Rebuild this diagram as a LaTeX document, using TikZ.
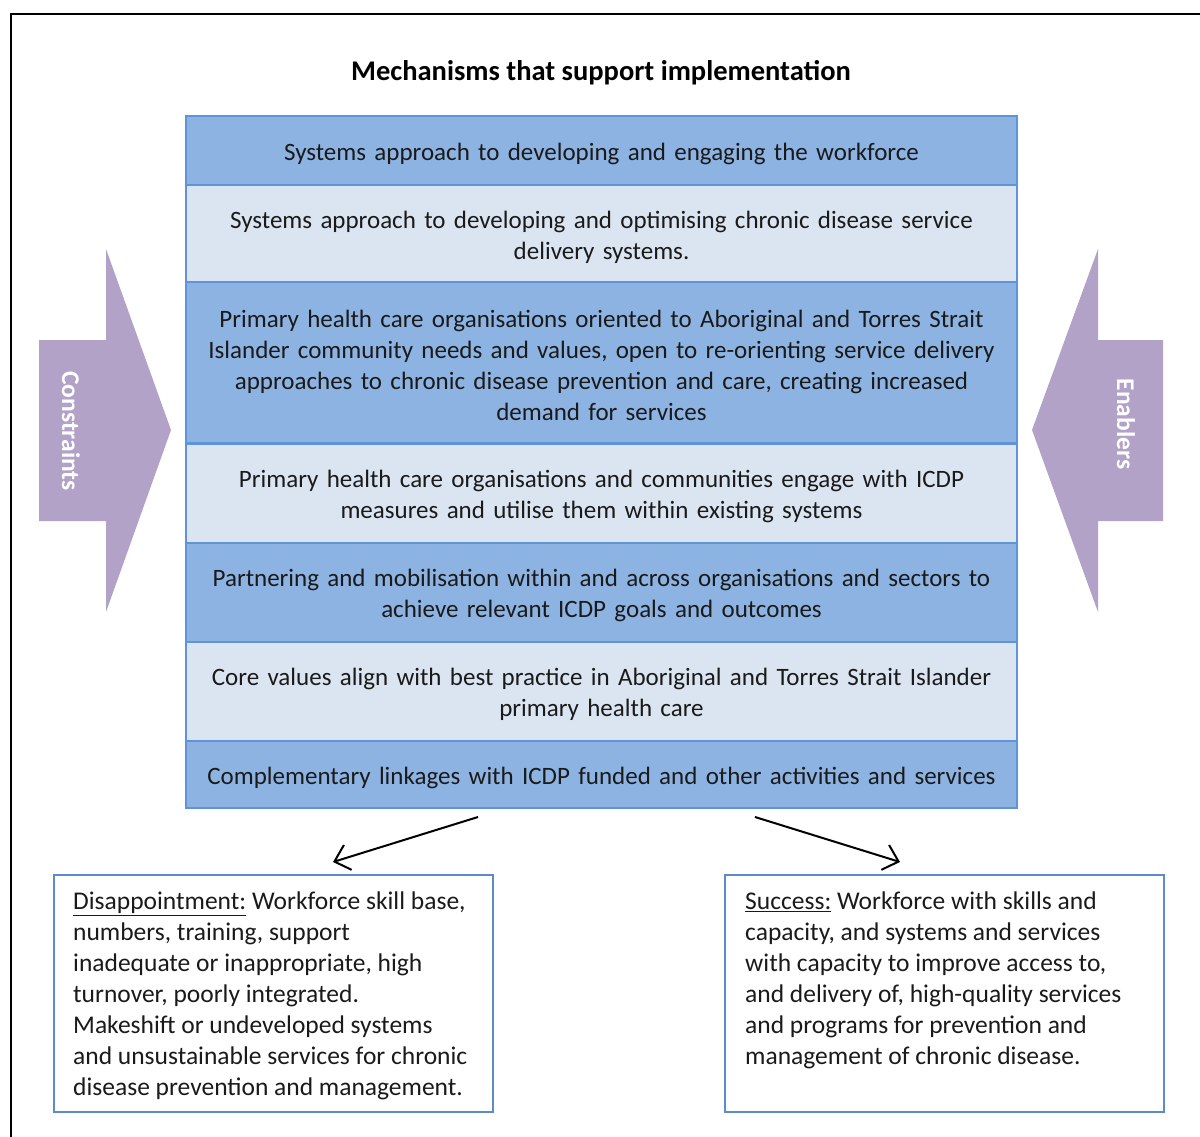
\documentclass[tikz,border=0pt]{standalone}
\usepackage{fontspec}
\setmainfont{Carlito}
\usetikzlibrary{arrows.meta}
\definecolor{rowdark}{HTML}{8DB3E2}
\definecolor{rowlight}{HTML}{DBE5F1}
\definecolor{rowline}{HTML}{5F94D8}
\definecolor{boxline}{HTML}{5B8BCB}
\definecolor{purp}{HTML}{B2A2C7}
\definecolor{txt}{HTML}{1A1A1A}
\newcommand{\rowtxt}[1]{\raisebox{-3pt}[\height][\depth]{\parbox{820pt}{\centering\spaceskip=.3333em\xspaceskip=.5em #1}}}
\tikzset{
  row/.style={draw=rowline, line width=2pt, minimum width=831pt, inner sep=0pt, text=txt, font=\fontsize{25}{31}\selectfont},
  darkrow/.style={row, fill=rowdark},
  lightrow/.style={row, fill=rowlight},
  outbox/.style={draw=boxline, line width=2pt, minimum width=439pt, minimum height=237pt, inner sep=0pt},
  outtext/.style={anchor=north west, align=left, inner sep=0pt, text=txt, font=\fontsize{25.5}{31}\selectfont},
  sidelabel/.style={text=white, font=\bfseries\fontsize{25.5}{28}\selectfont, rotate=-90},
  conn/.style={line width=2pt, -{Straight Barb[length=14pt,width=26pt,line width=2pt]}}
}
\begin{document}
\begin{tikzpicture}[x=1pt,y=-1pt]
\useasboundingbox (0,0) rectangle (1200,1137);
\draw[line width=2.5pt] (11,1140) -- (11,14) -- (1203,14);
\node[font=\bfseries\fontsize{28.5}{32}\selectfont, text=black] (title) at (601,73) {Mechanisms that support implementation};
% side arrows
\fill[purp] (39,340) -- (106,340) -- (106,249) -- (171,430) -- (106,612) -- (106,521) -- (39,521) -- cycle;
\node[sidelabel] (constraints) at (71,431) {Constraints};
\fill[purp] (1163,340) -- (1098,340) -- (1098,249) -- (1032,430) -- (1098,612) -- (1098,521) -- (1163,521) -- cycle;
\node[sidelabel] (enablers) at (1126,424) {Enablers};
% rows
\node[darkrow, minimum height=69pt] (r1) at (601.5,150.5) {\rowtxt{Systems approach to developing and engaging the workforce}};
\node[lightrow, minimum height=98pt] (r2) at (601.5,234) {\rowtxt{Systems approach to developing and optimising chronic disease service\\delivery systems.}};
\node[darkrow, minimum height=161pt] (r3) at (601.5,362.5) {\rowtxt{Primary health care organisations oriented to Aboriginal and Torres Strait\\Islander community needs and values, open to re-orienting service delivery\\approaches to chronic disease prevention and care, creating increased\\demand for services}};
\node[lightrow, minimum height=99pt] (r4) at (601.5,493.5) {\rowtxt{Primary health care organisations and communities engage with ICDP\\measures and utilise them within existing systems}};
\node[darkrow, minimum height=99pt] (r5) at (601.5,592.5) {\rowtxt{Partnering and mobilisation within and across organisations and sectors to\\achieve relevant ICDP goals and outcomes}};
\node[lightrow, minimum height=99pt] (r6) at (601.5,691.5) {\rowtxt{Core values align with best practice in Aboriginal and Torres Strait Islander\\primary health care}};
\node[darkrow, minimum height=67pt] (r7) at (601.5,774.5) {\rowtxt{Complementary linkages with ICDP funded and other activities and services}};
% outcome boxes
\node[outbox] (dis) at (273.5,993.5) {};
\node[outtext] (distext) at (73,892) {\underline{Disappointment:} Workforce skill base,\\numbers, training, support\\inadequate or inappropriate, high\\turnover, poorly integrated.\\Makeshift or undeveloped systems\\and unsustainable services for chronic\\disease prevention and management.};
\node[outbox] (suc) at (944.5,993.5) {};
\node[outtext] (suctext) at (745,892) {\underline{Success:} Workforce with skills and\\capacity, and systems and services\\with capacity to improve access to,\\and delivery of, high-quality services\\and programs for prevention and\\management of chronic disease.};
% connectors
\coordinate (ls) at (478,817);
\coordinate (le) at (333,862);
\coordinate (rs) at (755,817);
\coordinate (re) at (900,862);
\draw[conn] (ls) -- (le);
\draw[conn] (rs) -- (re);
\end{tikzpicture}
\end{document}
